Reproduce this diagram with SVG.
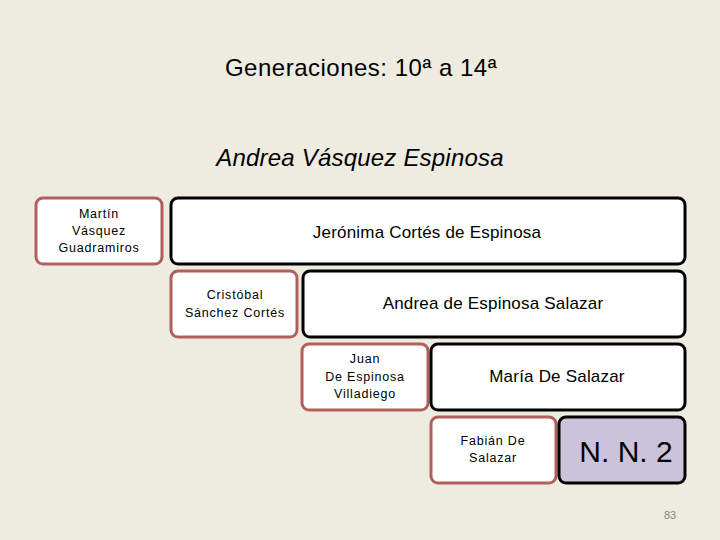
<svg xmlns="http://www.w3.org/2000/svg" width="720" height="540" viewBox="0 0 720 540">
<style>
text{font-family:"Liberation Sans","DejaVu Sans",sans-serif;fill:#000;text-anchor:middle}
.red{fill:#fff;stroke:#b0605c;stroke-width:3}
.blk{fill:#fff;stroke:#000;stroke-width:3}
.s{font-size:12.5px;letter-spacing:0.8px}
.m{font-size:17px;letter-spacing:0.2px}
</style>
<rect width="720" height="540" fill="#eeebe1"/>
<text x="361" y="76" font-size="24" letter-spacing="0.5">Generaciones: 10ª a 14ª</text>
<text x="360" y="166" font-size="24" font-style="italic" letter-spacing="0.2">Andrea Vásquez Espinosa</text>
<g id="martin"><rect class="red" x="36" y="198" width="126" height="66" rx="7"/>
<text class="s" x="99" y="218">Martín</text><text class="s" x="99" y="235">Vásquez</text><text class="s" x="99" y="252">Guadramiros</text></g>
<g id="jeronima"><rect class="blk" x="171" y="198" width="514" height="66" rx="7"/>
<text class="m" x="427" y="238">Jerónima Cortés de Espinosa</text></g>
<g id="cristobal"><rect class="red" x="171" y="271" width="126" height="66" rx="7"/>
<text class="s" x="235" y="299">Cristóbal</text><text class="s" x="235" y="317">Sánchez Cortés</text></g>
<g id="andrea"><rect class="blk" x="303" y="271" width="382" height="66" rx="7"/>
<text class="m" x="493" y="309">Andrea de Espinosa Salazar</text></g>
<g id="juan"><rect class="red" x="302" y="344" width="126" height="66" rx="7"/>
<text class="s" x="365" y="363">Juan</text><text class="s" x="365" y="381">De Espinosa</text><text class="s" x="365" y="398">Villadiego</text></g>
<g id="maria"><rect class="blk" x="431" y="344" width="254" height="66" rx="7"/>
<text class="m" x="557" y="382">María De Salazar</text></g>
<g id="fabian"><rect class="red" x="431" y="417" width="125" height="66" rx="7"/>
<text class="s" x="493" y="445">Fabián De</text><text class="s" x="493" y="462">Salazar</text></g>
<g id="nn2"><rect x="559" y="417" width="126" height="66" rx="7" fill="#cbc3da" stroke="#000" stroke-width="3"/>
<text x="626" y="462" font-size="30">N. N. 2</text></g>
<text x="670" y="519" font-size="11" style="fill:#888">83</text>
</svg>
